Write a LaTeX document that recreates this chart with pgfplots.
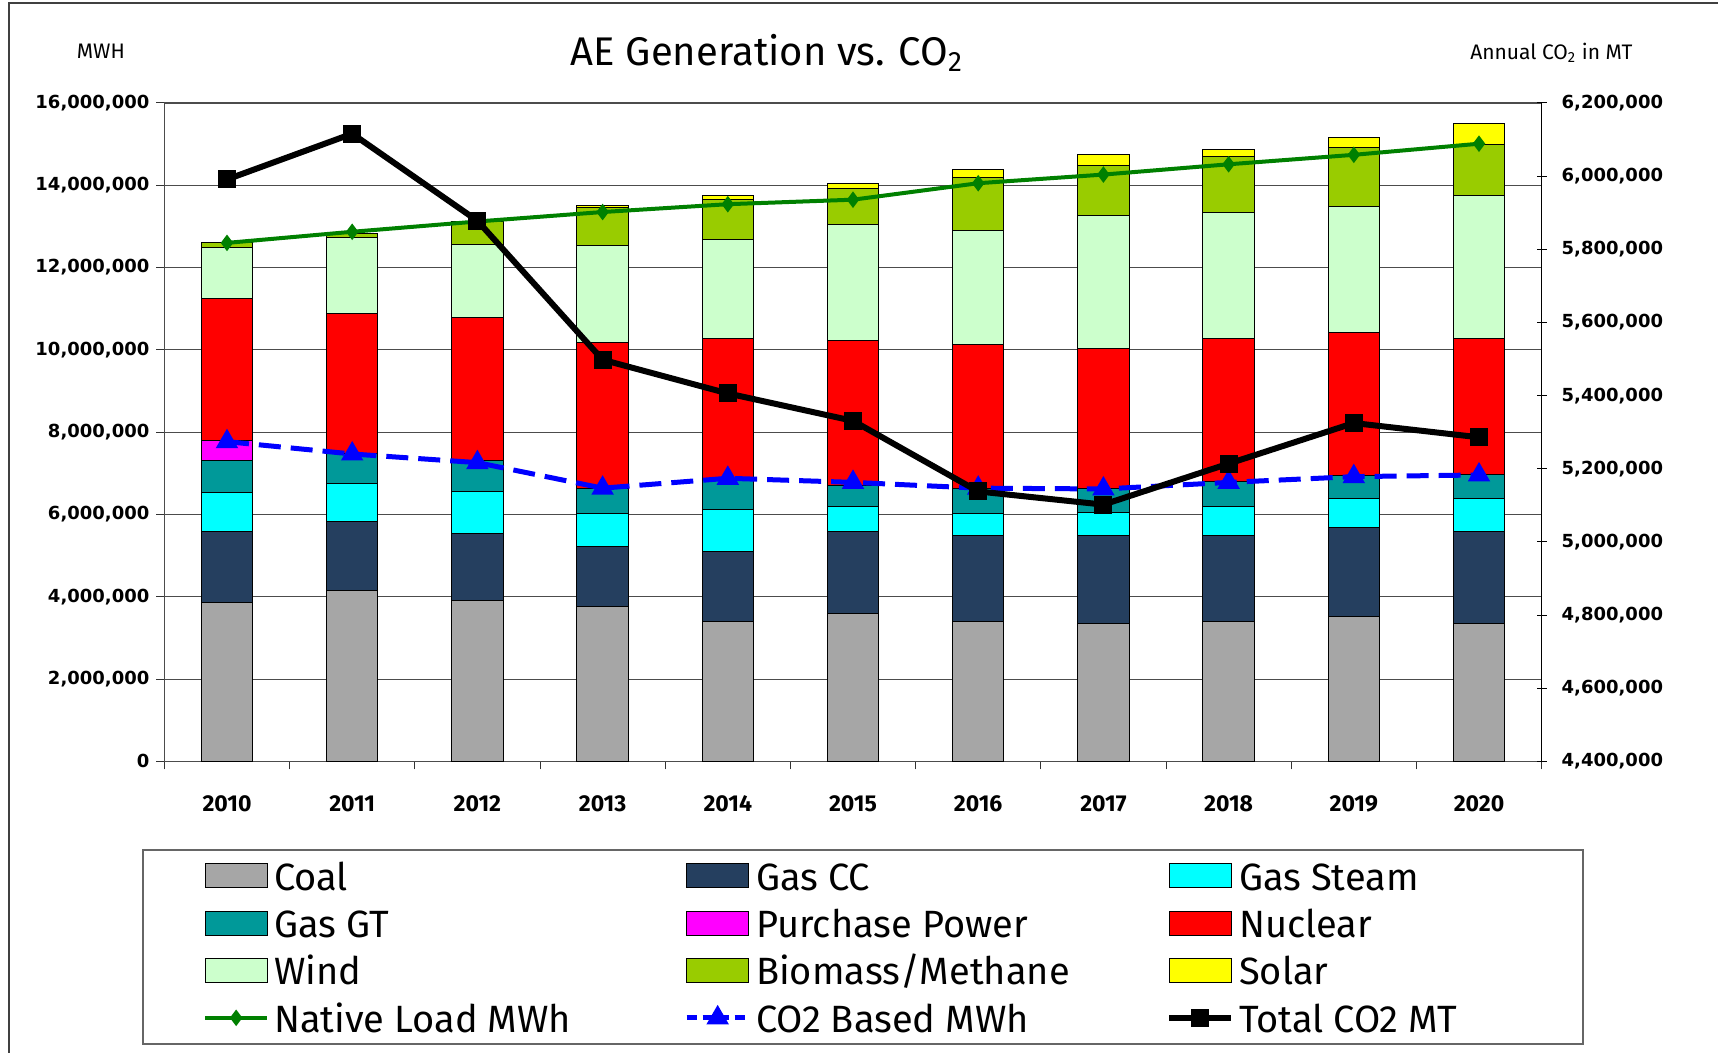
\documentclass[border=0pt]{standalone}
\usepackage{fontspec}
\setmainfont{Fira Sans}
\newfontfamily\tickfont{DejaVu Sans}
\usepackage{pgfplots}
\pgfplotsset{compat=1.18}
\usepackage{pgfplotstable}

\definecolor{coal}{HTML}{A6A6A6}
\definecolor{gascc}{HTML}{253F5F}
\definecolor{gassteam}{HTML}{00FFFF}
\definecolor{gasgt}{HTML}{009999}
\definecolor{purch}{HTML}{FF00FF}
\definecolor{nuclear}{HTML}{FF0000}
\definecolor{wind}{HTML}{CCFFCC}
\definecolor{biomass}{HTML}{99CC00}
\definecolor{solar}{HTML}{FFFF00}
\definecolor{native}{HTML}{008000}
\definecolor{co2b}{HTML}{0000FF}

\pgfplotstableread{
x Coal GasCC GasSteam GasGT Purchase Nuclear Wind Biomass Solar Native COtwoBased TotalCO
0 3870000 1720000 940000 790000 470000 3460000 1240000 110000 20000 12600000 7770000 5991000
1 4160000 1670000 920000 720000 0 3420000 1840000 90000 0 12870000 7470000 6116000
2 3910000 1640000 1010000 740000 0 3490000 1760000 570000 0 13120000 7260000 5878000
3 3760000 1470000 790000 620000 0 3550000 2350000 920000 40000 13350000 6640000 5498000
4 3410000 1680000 1040000 740000 0 3410000 2410000 960000 90000 13540000 6880000 5406000
5 3600000 1990000 600000 510000 0 3530000 2820000 880000 110000 13650000 6780000 5331000
6 3410000 2080000 540000 610000 0 3500000 2750000 1290000 200000 14050000 6640000 5138000
7 3360000 2130000 560000 570000 0 3420000 3230000 1220000 250000 14260000 6620000 5102000
8 3410000 2080000 700000 620000 0 3470000 3070000 1340000 190000 14510000 6780000 5214000
9 3520000 2160000 720000 540000 0 3490000 3060000 1430000 230000 14740000 6920000 5325000
10 3360000 2230000 790000 590000 0 3310000 3470000 1230000 510000 15010000 6960000 5286000
}\datatable

\newcommand\leglab[1]{\makebox[141pt][l]{\rule{0pt}{16pt}#1}}

\pgfplotsset{
  myaxis/.style={at={(82.2pt,145.7pt)}, anchor=south west, scale only axis,
    width=688.6pt, height=329.2pt, xmin=-0.5, xmax=10.5},
  barleg/.style={legend image code/.code={\draw[##1, draw=black, line width=0.5pt] (0pt,-6pt) rectangle (31pt,6pt);}},
  lineleg/.style={legend image code/.code={\draw[mark repeat=2,mark phase=2,##1] plot coordinates {(0pt,0pt) (15.5pt,0pt) (31pt,0pt)};}},
}

\begin{document}
\begin{tikzpicture}
\useasboundingbox (0,0) rectangle (859pt,526.4pt);
\draw[black!75, line width=1pt] (4.4pt,0pt) -- (4.4pt,524.8pt) -- (859pt,524.8pt);

\begin{axis}[myaxis,
  ybar stacked, bar width=0.41,
  ymin=0, ymax=16000000, ytick distance=2000000,
  scaled y ticks=false,
  ymajorgrids, major grid style={black!70, line width=0.5pt},
  axis line style={black!70, line width=0.7pt},
  tick pos=left, tick align=outside,
  major tick length=4pt, minor tick length=4pt,
  xtick={0,...,10},
  xticklabels={2010,2011,2012,2013,2014,2015,2016,2017,2018,2019,2020},
  major x tick style={draw=none},
  minor xtick={-0.5,0.5,...,10.5},
  minor x tick style={draw=black!80, line width=0.5pt},
  major y tick style={draw=black!80, line width=0.5pt},
  xticklabel style={font=\bfseries\fontsize{11.5}{12}\selectfont, anchor=center, yshift=-17pt},
  yticklabel style={font=\tickfont\bfseries\fontsize{9}{10}\selectfont,
     /pgf/number format/.cd, fixed, 1000 sep={,}, assume math mode=true},
  every axis plot/.append style={draw=black, line width=0.5pt},
]
\addplot[fill=coal] table[x=x,y=Coal]{\datatable};
\addplot[fill=gascc] table[x=x,y=GasCC]{\datatable};
\addplot[fill=gassteam] table[x=x,y=GasSteam]{\datatable};
\addplot[fill=gasgt] table[x=x,y=GasGT]{\datatable};
\addplot[fill=purch] table[x=x,y=Purchase]{\datatable};
\addplot[fill=nuclear] table[x=x,y=Nuclear]{\datatable};
\addplot[fill=wind] table[x=x,y=Wind]{\datatable};
\addplot[fill=biomass] table[x=x,y=Biomass]{\datatable};
\addplot[fill=solar] table[x=x,y=Solar]{\datatable};
\end{axis}

\begin{axis}[myaxis, hide axis, ymin=0, ymax=16000000]
\addplot[native, line width=2pt, mark=diamond*, mark size=2.5pt] table[x=x,y=Native]{\datatable};
\addplot[co2b, line width=2.5pt, dash pattern=on 11pt off 5pt, mark=triangle*, mark size=4pt, mark options={solid}] table[x=x,y=COtwoBased]{\datatable};
\end{axis}

\begin{axis}[myaxis, axis x line=none, axis y line*=right,
  ymin=4400000, ymax=6200000, ytick distance=200000,
  scaled y ticks=false,
  axis line style={black, line width=0.7pt},
  tick align=center, major tick length=5pt,
  major y tick style={draw=black, line width=0.5pt},
  yticklabel style={font=\tickfont\bfseries\fontsize{9}{10}\selectfont, xshift=4pt,
     /pgf/number format/.cd, fixed, 1000 sep={,}, assume math mode=true},
  legend columns=3,
  legend cell align=left,
  legend style={at={(-0.016,-0.133)}, anchor=north west,
    draw=black!60, line width=0.8pt,
    inner xsep=30pt, inner ysep=3.2pt,
    row sep=4.2pt,
    nodes={inner sep=1pt},
    font=\fontsize{19}{19}\selectfont,
    /tikz/every odd column/.append style={column sep=1.5pt},
    /tikz/every even column/.append style={column sep=63pt}},
]
\addlegendimage{barleg, fill=coal}\addlegendentry{\leglab{Coal}}
\addlegendimage{barleg, fill=gascc}\addlegendentry{\leglab{Gas CC}}
\addlegendimage{barleg, fill=gassteam}\addlegendentry{\leglab{Gas Steam}}
\addlegendimage{barleg, fill=gasgt}\addlegendentry{\leglab{Gas GT}}
\addlegendimage{barleg, fill=purch}\addlegendentry{\leglab{Purchase Power}}
\addlegendimage{barleg, fill=nuclear}\addlegendentry{\leglab{Nuclear}}
\addlegendimage{barleg, fill=wind}\addlegendentry{\leglab{Wind}}
\addlegendimage{barleg, fill=biomass}\addlegendentry{\leglab{Biomass/Methane}}
\addlegendimage{barleg, fill=solar}\addlegendentry{\leglab{Solar}}
\addlegendimage{lineleg, native, line width=2pt, mark=diamond*, mark size=2.5pt}\addlegendentry{\leglab{Native Load MWh}}
\addlegendimage{lineleg, co2b, line width=2.5pt, dash pattern=on 5pt off 3pt, mark=triangle*, mark size=4pt, mark options={solid}}\addlegendentry{\leglab{CO2 Based MWh}}
\addplot[lineleg, black, line width=3pt, mark=square*, mark size=3pt] table[x=x,y=TotalCO]{\datatable};
\addlegendentry{\leglab{Total CO2 MT}}
\end{axis}

\node[font=\fontsize{20}{20}\selectfont] at (383.5pt,500pt) {AE Generation vs. CO\textsubscript{2}};
\node[font=\fontsize{10.5}{11}\selectfont] at (50.4pt,500.7pt) {MWH};
\node[font=\fontsize{10.5}{11}\selectfont] at (775.7pt,500.1pt) {Annual CO\textsubscript{2} in MT};
\end{tikzpicture}
\end{document}
